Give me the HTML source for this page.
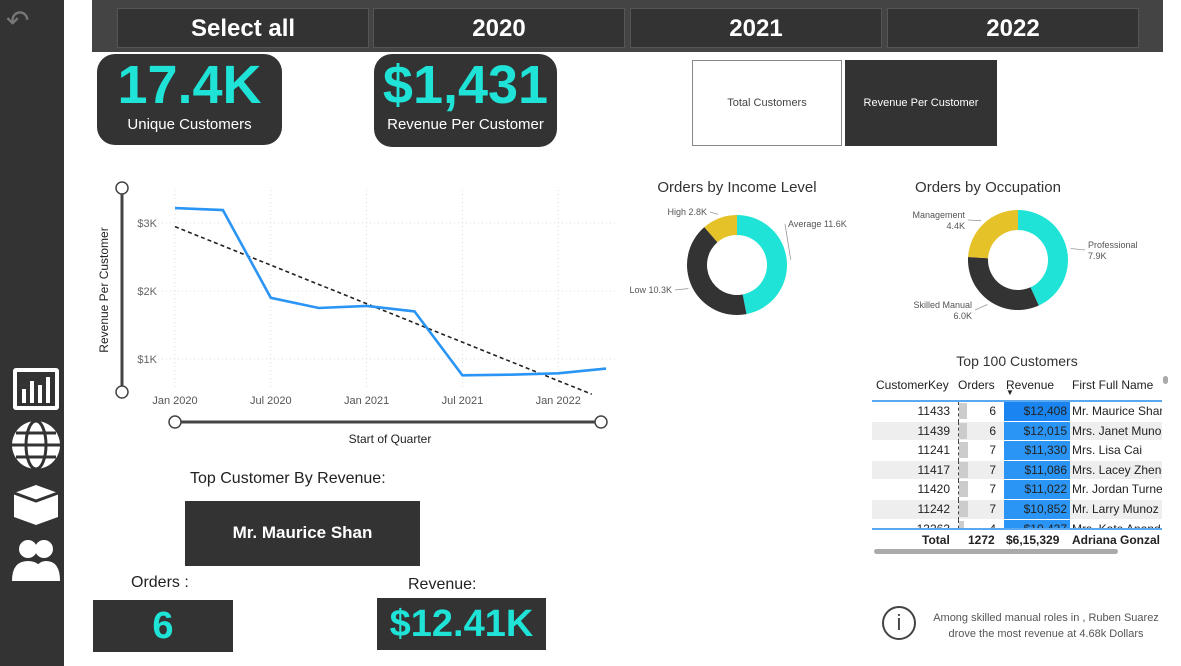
<!DOCTYPE html>
<html><head><meta charset="utf-8"><style>
body{margin:0;width:1181px;height:666px;position:relative;background:#fff;font-family:"Liberation Sans",sans-serif;overflow:hidden}
.abs{position:absolute}
.btn{position:absolute;top:8px;height:40px;width:252px;background:#333;border:1px solid #555;box-sizing:border-box;color:#fff;font-weight:bold;font-size:24px;text-align:center;line-height:40px}
.kpi{position:absolute;background:#333;border-radius:18px;color:#1ee3d6;text-align:center}
.kpi .v{font-weight:bold;font-size:54px;line-height:62px}
.kpi .l{color:#fff;font-size:15px}
.box{position:absolute;background:#333;color:#1ee3d6;font-weight:bold;text-align:center}
</style></head><body>
<div class="abs" style="left:0;top:0;width:64px;height:666px;background:#333"></div>
<div class="abs" style="left:6px;top:4px;color:#777;font-size:28px">↶</div>
<svg class="abs" style="left:10px;top:365px" width="52" height="220">
<rect x="3" y="3" width="46" height="42" fill="#fff" rx="3"/><rect x="7" y="7" width="38" height="34" fill="#333"/><rect x="12" y="24" width="4" height="14" fill="#fff"/><rect x="20" y="16" width="4" height="22" fill="#fff"/><rect x="28" y="20" width="4" height="18" fill="#fff"/><rect x="36" y="12" width="4" height="26" fill="#fff"/>
<circle cx="26" cy="80" r="24" fill="#fff"/><ellipse cx="26" cy="80" rx="10" ry="24" fill="none" stroke="#333" stroke-width="3"/><line x1="2" y1="80" x2="50" y2="80" stroke="#333" stroke-width="3"/><line x1="6" y1="68" x2="46" y2="68" stroke="#333" stroke-width="3"/><line x1="6" y1="92" x2="46" y2="92" stroke="#333" stroke-width="3"/>
<path d="M4 128 L26 120 L48 128 L48 152 L26 160 L4 152Z" fill="#fff"/><path d="M4 128 L26 136 L48 128" stroke="#333" stroke-width="3" fill="none"/>
<circle cx="18" cy="184" r="9" fill="#fff"/><circle cx="34" cy="184" r="9" fill="#fff"/><path d="M2 216 Q2 196 18 196 Q34 196 34 216Z" fill="#fff"/><path d="M24 216 Q24 196 36 196 Q50 196 50 216Z" fill="#fff"/>
</svg>
<div class="abs" style="left:92px;top:0;width:1071px;height:52px;background:#444"></div>
<div class="btn" style="left:117px">Select all</div>
<div class="btn" style="left:373px">2020</div>
<div class="btn" style="left:630px">2021</div>
<div class="btn" style="left:887px">2022</div>
<div class="kpi" style="left:97px;top:54px;width:185px;height:91px"><div class="v">17.4K</div><div class="l">Unique Customers</div></div>
<div class="kpi" style="left:374px;top:54px;width:183px;height:93px"><div class="v">$1,431</div><div class="l">Revenue Per Customer</div></div>
<div class="abs" style="left:692px;top:60px;width:150px;height:86px;border:1px solid #888;box-sizing:border-box;font-size:11px;color:#444;text-align:center;line-height:84px">Total Customers</div>
<div class="abs" style="left:845px;top:60px;width:152px;height:86px;background:#333;font-size:11px;color:#fff;text-align:center;line-height:86px">Revenue Per Customer</div>

<svg id="line" class="abs" style="left:90px;top:170px" width="530" height="280"></svg>
<svg id="d1" class="abs" style="left:620px;top:170px" width="240" height="160"></svg>
<svg id="d2" class="abs" style="left:890px;top:170px" width="291" height="160"></svg>

<div class="abs" style="left:872px;top:353px;width:290px;text-align:center;font-size:14px;color:#333">Top 100 Customers</div>
<div class="abs" style="left:872px;top:374px;width:290px;height:182px;font-size:12px;color:#222;overflow:hidden">
<div style="position:relative;height:26px;border-bottom:2px solid #5aa8f0">
<span class="abs" style="left:4px;top:4px">CustomerKey</span><span class="abs" style="left:86px;top:4px">Orders</span><span class="abs" style="left:134px;top:4px">Revenue</span><span class="abs" style="left:134px;top:14px;font-size:8px">▼</span><span class="abs" style="left:200px;top:4px">First Full Name</span></div>
<div id="rows" style="position:relative;height:126px;overflow:hidden"></div>
<div style="position:absolute;top:154px;left:0;width:290px;border-top:2px solid #5aa8f0;font-weight:bold;height:20px;line-height:20px;background:#fff">
<span class="abs" style="left:50px">Total</span><span class="abs" style="left:96px">1272</span><span class="abs" style="left:134px">$6,15,329</span><span class="abs" style="left:200px;white-space:nowrap">Adriana Gonzal</span></div>
<div class="abs" style="left:2px;top:175px;width:244px;height:5px;border-radius:3px;background:#aaa"></div>
</div>
<div class="abs" style="left:1163px;top:376px;width:5px;height:8px;border-radius:3px;background:#aaa"></div>

<div class="abs" style="left:190px;top:470px;font-size:16px;color:#222">Top Customer By Revenue:</div>
<div class="abs" style="left:185px;top:501px;width:235px;height:65px;background:#333;color:#fff;font-weight:bold;font-size:17px;text-align:center;line-height:63px">Mr. Maurice Shan</div>
<div class="abs" style="left:131px;top:574px;font-size:16px;color:#222">Orders :</div>
<div class="box" style="left:93px;top:600px;width:140px;height:52px;font-size:38px;line-height:52px">6</div>
<div class="abs" style="left:408px;top:576px;font-size:16px;color:#222">Revenue:</div>
<div class="box" style="left:377px;top:598px;width:169px;height:52px;font-size:38px;line-height:52px">$12.41K</div>
<div class="abs" style="left:882px;top:606px;width:34px;height:34px;border:2px solid #444;border-radius:50%;box-sizing:border-box;text-align:center;font-size:22px;line-height:30px;color:#444">i</div>
<div class="abs" style="left:918px;top:610px;width:256px;font-size:11px;color:#555;text-align:center;line-height:16px">Among skilled manual roles in , Ruben Suarez drove the most revenue at 4.68k Dollars</div>

<script>
const quarters=['Q1 2020','Q2 2020','Q3 2020','Q4 2020','Q1 2021','Q2 2021','Q3 2021','Q4 2021','Q1 2022','Q2 2022'];
const revenue=[3220,3190,1900,1750,1780,1700,760,770,790,860];
const yTicks=[1000,2000,3000];
const yTickLabels=['$1K','$2K','$3K'];
const xTickIdx=[0,2,4,6,8];
const xTickLabels=['Jan 2020','Jul 2020','Jan 2021','Jul 2021','Jan 2022'];
const incomeLabels=['Average 11.6K','Low 10.3K','High 2.8K'];
const incomeValues=[11.6,10.3,2.8];
const occLabels=['Professional 7.9K','Skilled Manual 6.0K','Management 4.4K'];
const occValues=[7.9,6.0,4.4];
const tKeys=[11433,11439,11241,11417,11420,11242,13263];
const tOrders=[6,6,7,7,7,7,4];
const tRevenue=[12408,12015,11330,11086,11022,10852,10437];
const tNames=['Mr. Maurice Shan','Mrs. Janet Munoz','Mrs. Lisa Cai','Mrs. Lacey Zheng','Mr. Jordan Turner','Mr. Larry Munoz','Mrs. Kate Anand'];

const NS='http://www.w3.org/2000/svg';
function mk(p,t,a){const e=document.createElementNS(NS,t);for(const k in a)e.setAttribute(k,a[k]);p.appendChild(e);return e;}
const L=document.getElementById('line');
const X=i=>85+i*47.9, Y=v=>189-(v-1000)*0.068;
yTicks.forEach((v,i)=>{const g=mk(L,'line',{x1:60,x2:525,y1:Y(v),y2:Y(v),stroke:'#ddd','stroke-dasharray':'1 3'});

const t=mk(L,'text',{x:67,y:Y(v)+4,'font-size':11,fill:'#666','text-anchor':'end'});t.textContent=yTickLabels[i];
});
xTickIdx.forEach((q,i)=>{const g=mk(L,'line',{x1:X(q),x2:X(q),y1:20,y2:220,stroke:'#ddd','stroke-dasharray':'1 3'});

const t=mk(L,'text',{x:X(q),y:234,'font-size':11,fill:'#555','text-anchor':'middle'});t.textContent=xTickLabels[i];
});
const n=revenue.length;let sx=0,sy=0,sxy=0,sxx=0;revenue.forEach((v,i)=>{sx+=i;sy+=v;sxy+=i*v;sxx+=i*i;});
const b=(n*sxy-sx*sy)/(n*sxx-sx*sx),a=(sy-b*sx)/n;
const tr=mk(L,'line',{x1:X(0),y1:Y(a),x2:X(8.7),y2:Y(a+b*8.7),stroke:'#222','stroke-width':1.6,'stroke-dasharray':'4 3'});

const pl=mk(L,'polyline',{points:revenue.map((v,i)=>X(i)+','+Y(v)).join(' '),fill:'none',stroke:'#2b95f5','stroke-width':2.6});

mk(L,'line',{x1:32,y1:18,x2:32,y2:222,stroke:'#444','stroke-width':3});
mk(L,'circle',{cx:32,cy:18,r:6,fill:'#fff',stroke:'#444','stroke-width':1.5});
mk(L,'circle',{cx:32,cy:222,r:6,fill:'#fff',stroke:'#444','stroke-width':1.5});
mk(L,'line',{x1:85,y1:252,x2:511,y2:252,stroke:'#444','stroke-width':3});
mk(L,'circle',{cx:85,cy:252,r:6,fill:'#fff',stroke:'#444','stroke-width':1.5});
mk(L,'circle',{cx:511,cy:252,r:6,fill:'#fff',stroke:'#444','stroke-width':1.5});
let t=mk(L,'text',{x:300,y:273,'font-size':12,fill:'#222','text-anchor':'middle'});t.textContent='Start of Quarter';
t=mk(L,'text',{x:0,y:0,'font-size':12,fill:'#222','text-anchor':'middle',transform:'translate(18,120) rotate(-90)'});t.textContent='Revenue Per Customer';

function donut(svg,cx,cy,vals,labels,title,tx,lpos){
  const S=document.getElementById(svg);const cols=['#1ee3d6','#333333','#e6c229'];
  const tot=vals.reduce((s,v)=>s+v,0);let ang=0;const R=50,r=30;
  const tt=mk(S,'text',{x:tx,y:22,'font-size':15,fill:'#333','text-anchor':'middle'});tt.textContent=title;
  vals.forEach((v,i)=>{const a0=ang,a1=ang+v/tot*2*Math.PI;ang=a1;
    const p=(A,rr)=>[cx+rr*Math.sin(A),cy-rr*Math.cos(A)];const lg=a1-a0>Math.PI?1:0;
    const [x0,y0]=p(a0,R),[x1,y1]=p(a1,R),[x2,y2]=p(a1,r),[x3,y3]=p(a0,r);
    const s=mk(S,'path',{d:`M${x0},${y0}A${R},${R} 0 ${lg} 1 ${x1},${y1}L${x2},${y2}A${r},${r} 0 ${lg} 0 ${x3},${y3}Z`,fill:cols[i]});
    
    const am=(a0+a1)/2,[lx,ly]=p(am,R+4);const lp=lpos[i];
    mk(S,'line',{x1:lx,y1:ly,x2:lp[0],y2:lp[1],stroke:'#999','stroke-width':0.8});
    const parts=lp[3]?labels[i].split(/ (?=[\d])/):[labels[i]];
    parts.forEach((pt,j)=>{const tl=mk(S,'text',{x:lp[0]+(lp[2]=='end'?-3:3),y:lp[1]+3+j*11-(parts.length>1?5:0),'font-size':9,fill:'#555','text-anchor':lp[2]});tl.textContent=pt;
    });
  });
}
donut('d1',117,95,incomeValues,incomeLabels,'Orders by Income Level',117,[[165,54,'start'],[55,120,'end'],[90,42,'end']]);
donut('d2',128,90,occValues,occLabels,'Orders by Occupation',98,[[195,80,'start',1],[85,140,'end',1],[78,50,'end',1]]);

const rows=document.getElementById('rows');
const maxO=Math.max(...tOrders);
tKeys.forEach((k,i)=>{const d=document.createElement('div');


d.style.cssText=`position:relative;height:18.6px;line-height:18px;background:${i%2?'#eee':'#fff'};border-bottom:1px solid #fff`;
d.innerHTML=`<span class="abs" style="right:212px">${k}</span><span class="abs" style="left:87px;top:1px;height:16px;width:${tOrders[i]/maxO*9}px;background:#ccc"></span><span class="abs" style="left:86px;top:0;height:20px;border-left:1px dashed #444"></span><span class="abs" style="right:166px">${tOrders[i]}</span><span class="abs" style="left:132px;top:0;width:66px;height:18.6px;background:${i==0?'#1a85f0':'#2b95f5'};text-align:right;box-sizing:border-box;padding-right:3px">$${tRevenue[i].toLocaleString('en-US')}</span><span class="abs" style="left:200px;white-space:nowrap">${tNames[i]}</span>`;
rows.appendChild(d);});
</script>
</body></html>
